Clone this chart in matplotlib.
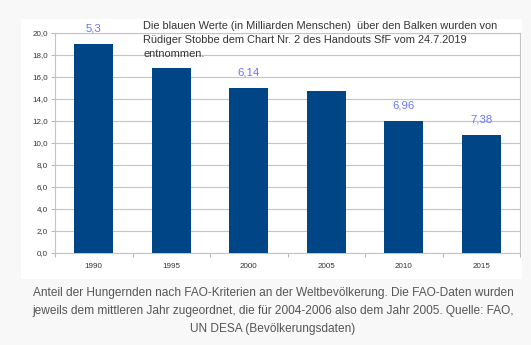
import matplotlib
matplotlib.use("Agg")
import matplotlib.pyplot as plt
from matplotlib.patches import Rectangle
import numpy as np

years = ["1990", "1995", "2000", "2005", "2010", "2015"]
share = [19.0, 16.8, 15.0, 14.7, 12.0, 10.7]
blue_labels = ["5,3", None, "6,14", None, "6,96", "7,38"]
y_ticks = [0, 2, 4, 6, 8, 10, 12, 14, 16, 18, 20]

note = ("Die blauen Werte (in Milliarden Menschen)  über den Balken wurden von\n"
        "Rüdiger Stobbe dem Chart Nr. 2 des Handouts SfF vom 24.7.2019\n"
        "entnommen.")
caption = ("Anteil der Hungernden nach FAO-Kriterien an der Weltbevölkerung. Die FAO-Daten wurden\n"
           "jeweils dem mittleren Jahr zugeordnet, die für 2004-2006 also dem Jahr 2005. Quelle: FAO,\n"
           "UN DESA (Bevölkerungsdaten)")

plt.rcParams['font.family'] = ['Liberation Sans', 'DejaVu Sans']

W, H = 531, 345
fig = plt.figure(figsize=(W / 100, H / 100), dpi=100, facecolor='#f8f8f8')

# white chart panel
fig.patches.append(Rectangle((21 / W, 1 - 279 / H), (522 - 21) / W, (279 - 19) / H,
                             transform=fig.transFigure, facecolor='white',
                             edgecolor='none', zorder=0))

ax = fig.add_axes([55 / W, 1 - 253 / H, (520 - 55) / W, (253 - 33) / H])
ax.set_zorder(2)
ax.set_facecolor('white')
x = np.arange(len(years))
ax.bar(x, share, width=0.5, color='#004586', zorder=3)

ax.set_xlim(-0.5, len(years) - 0.5)
ax.set_ylim(0, 20)
ax.set_yticks(y_ticks)
ax.set_yticklabels([f"{v:.1f}".replace('.', ',') for v in y_ticks])
ax.set_xticks(x)
ax.set_xticklabels(years)
ax.set_xticks(np.arange(-0.5, len(years)), minor=True)

ax.grid(axis='y', color='#c4c4c4', linewidth=0.8, zorder=0)
for s in ax.spines.values():
    s.set_color('#c4c4c4')
    s.set_linewidth(0.8)

ax.tick_params(axis='y', length=3, width=0.8, color='#b8b8b8', labelsize=5.8,
               labelcolor='#333333', pad=2)
ax.tick_params(axis='x', which='major', length=0, labelsize=5.8, labelcolor='#333333', pad=7)
ax.tick_params(axis='x', which='minor', length=3, width=0.8, color='#b8b8b8')

for xi, v, lab in zip(x, share, blue_labels):
    if lab:
        ax.annotate(lab, (xi, v), xytext=(0, 7.5), textcoords='offset points',
                    ha='center', va='bottom', color='#6677f5', fontsize=8.2,
                    zorder=4, annotation_clip=False)

fig.text(143 / W, 1 - 21 / H, note, ha='left', va='top', fontsize=7.9,
         color='#333333', linespacing=1.5, zorder=5)

fig.text(273 / W, 1 - 287 / H, caption, ha='center', va='top', fontsize=8.55,
         color='#555555', linespacing=1.65)

fig.savefig('out.png', dpi=100, facecolor=fig.get_facecolor())
